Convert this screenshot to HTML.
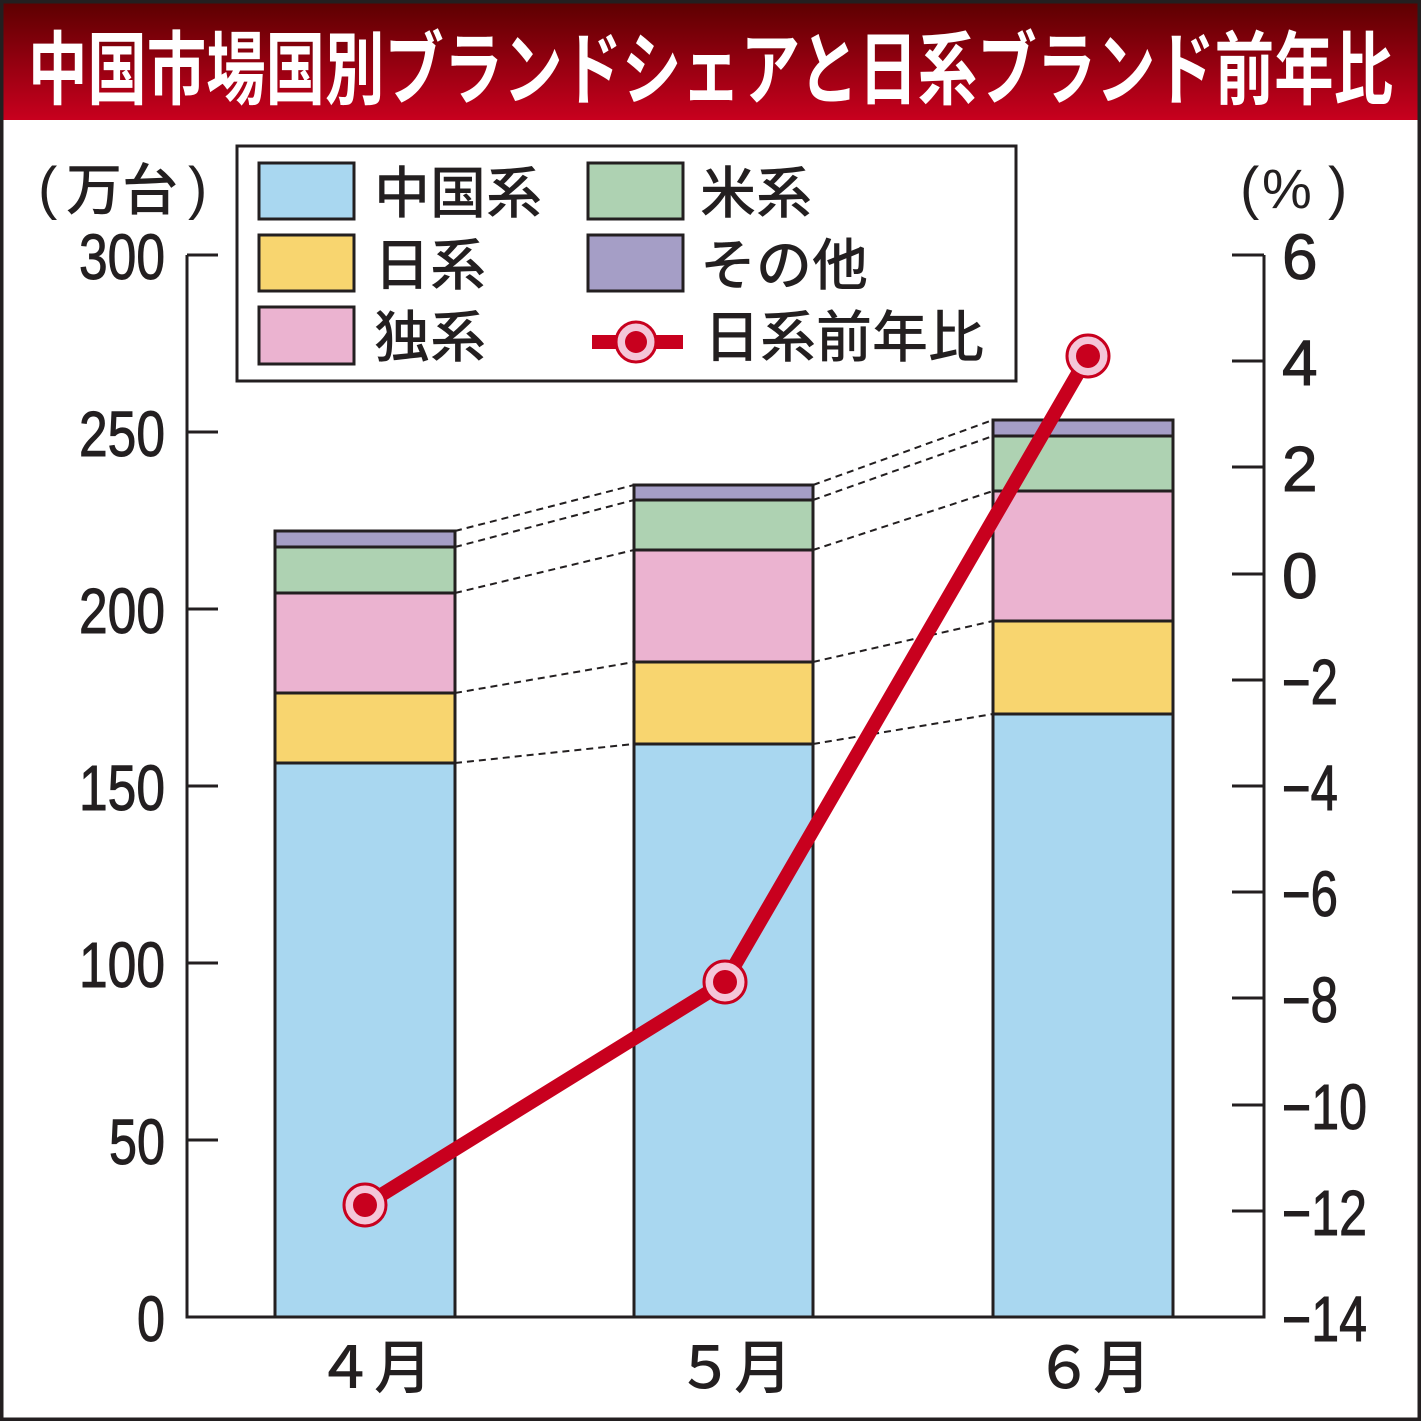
<!DOCTYPE html>
<html><head><meta charset="utf-8"><style>
html,body{margin:0;padding:0;background:#fff}
svg{display:block}
text{font-family:"Liberation Sans","Noto Sans CJK JP",sans-serif}
.t{font-family:"Liberation Sans Narrow","Liberation Sans",sans-serif;font-size:64px;fill:#231f20}
.j{font-family:"Noto Sans CJK JP",sans-serif;font-size:56px;fill:#231f20;font-weight:500}
.p{font-family:"Liberation Sans",sans-serif;font-size:58px;fill:#231f20}
</style></head><body>
<svg width="1421" height="1421" viewBox="0 0 1421 1421" xmlns="http://www.w3.org/2000/svg">
<defs><linearGradient id="g" x1="0" y1="0" x2="0" y2="1"><stop offset="0" stop-color="#5a0000"/><stop offset="1" stop-color="#c8001e"/></linearGradient></defs>
<rect x="0" y="0" width="1421" height="1421" fill="#fff"/>
<rect x="0" y="0" width="1421" height="120" fill="url(#g)"/>
<text x="28" y="98" font-size="80" font-weight="bold" fill="#fff" textLength="1365" lengthAdjust="spacingAndGlyphs" style="font-family:'Noto Sans CJK JP',sans-serif">中国市場国別ブランドシェアと日系ブランド前年比</text>
<rect x="1.5" y="1.5" width="1418" height="1418" fill="none" stroke="#231f20" stroke-width="4"/>
<!-- units -->
<text class="p" x="38" y="208">(</text>
<text class="j" x="66" y="210">万台</text>
<text class="p" x="188" y="208">)</text>
<text class="p" x="1240" y="208">(</text>
<text class="p" x="1262" y="208" style="font-size:56px">%</text>
<text class="p" x="1328" y="208">)</text>
<!-- bars -->
<g stroke="#231f20" stroke-width="3">
<rect x="275" y="763" width="180" height="554" fill="#a9d7f0"/>
<rect x="275" y="693" width="180" height="70" fill="#f8d56f"/>
<rect x="275" y="593" width="180" height="100" fill="#ebb3d0"/>
<rect x="275" y="547" width="180" height="46" fill="#aed2b2"/>
<rect x="275" y="531" width="180" height="16" fill="#a59ec6"/>
<rect x="634" y="744" width="179" height="573" fill="#a9d7f0"/>
<rect x="634" y="662" width="179" height="82" fill="#f8d56f"/>
<rect x="634" y="550" width="179" height="112" fill="#ebb3d0"/>
<rect x="634" y="500" width="179" height="50" fill="#aed2b2"/>
<rect x="634" y="485" width="179" height="15" fill="#a59ec6"/>
<rect x="993" y="714" width="180" height="603" fill="#a9d7f0"/>
<rect x="993" y="621" width="180" height="93" fill="#f8d56f"/>
<rect x="993" y="491" width="180" height="130" fill="#ebb3d0"/>
<rect x="993" y="436" width="180" height="55" fill="#aed2b2"/>
<rect x="993" y="420" width="180" height="16" fill="#a59ec6"/>
</g>
<g stroke="#231f20" stroke-width="2" stroke-dasharray="7,5" fill="none">
<path d="M455 763L634 744M455 693L634 662M455 593L634 550M455 547L634 500M455 531L634 485"/>
<path d="M813 744L993 714M813 662L993 621M813 550L993 491M813 500L993 436M813 485L993 420"/>
</g>
<!-- axes -->
<g stroke="#231f20" stroke-width="3" fill="none">
<path d="M187 255V1317H1264V255"/>
<path d="M187 255H218M187 432H218M187 609H218M187 786H218M187 963H218M187 1140H218"/>
<path d="M1232 255H1264M1232 361H1264M1232 467H1264M1232 574H1264M1232 680H1264M1232 786H1264M1232 892H1264M1232 998H1264M1232 1105H1264M1232 1211H1264"/>
</g>
<g class="t" text-anchor="end" stroke="#231f20" stroke-width="1">
<text x="165" y="279" textLength="86" lengthAdjust="spacingAndGlyphs">300</text>
<text x="165" y="456" textLength="86" lengthAdjust="spacingAndGlyphs">250</text>
<text x="165" y="633" textLength="86" lengthAdjust="spacingAndGlyphs">200</text>
<text x="165" y="810" textLength="86" lengthAdjust="spacingAndGlyphs">150</text>
<text x="165" y="987" textLength="86" lengthAdjust="spacingAndGlyphs">100</text>
<text x="165" y="1164" textLength="56" lengthAdjust="spacingAndGlyphs">50</text>
<text x="165" y="1341" textLength="28" lengthAdjust="spacingAndGlyphs">0</text>
</g>
<g class="t" stroke="#231f20" stroke-width="1">
<text x="1282" y="279">6</text>
<text x="1282" y="385">4</text>
<text x="1282" y="491">2</text>
<text x="1282" y="598">0</text>
<text x="1282" y="704" textLength="56" lengthAdjust="spacingAndGlyphs">−2</text>
<text x="1282" y="810" textLength="56" lengthAdjust="spacingAndGlyphs">−4</text>
<text x="1282" y="916" textLength="56" lengthAdjust="spacingAndGlyphs">−6</text>
<text x="1282" y="1022" textLength="56" lengthAdjust="spacingAndGlyphs">−8</text>
<text x="1282" y="1129" textLength="85" lengthAdjust="spacingAndGlyphs">−10</text>
<text x="1282" y="1235" textLength="85" lengthAdjust="spacingAndGlyphs">−12</text>
<text x="1282" y="1341" textLength="85" lengthAdjust="spacingAndGlyphs">−14</text>
</g>
<g class="j" style="font-size:58px">
<text x="316" y="1388">４月</text>
<text x="676" y="1388">５月</text>
<text x="1035" y="1388">６月</text>
</g>
<!-- legend -->
<rect x="237" y="146" width="779" height="235" fill="#fff" stroke="#231f20" stroke-width="3"/>
<g stroke="#231f20" stroke-width="3">
<rect x="259" y="163" width="95" height="56" fill="#a9d7f0"/>
<rect x="259" y="235" width="95" height="56" fill="#f8d56f"/>
<rect x="259" y="307" width="95" height="57" fill="#ebb3d0"/>
<rect x="588" y="163" width="95" height="56" fill="#aed2b2"/>
<rect x="588" y="235" width="95" height="56" fill="#a59ec6"/>
</g>
<g class="j">
<text x="374" y="213">中国系</text>
<text x="374" y="285">日系</text>
<text x="374" y="357">独系</text>
<text x="700" y="213">米系</text>
<text x="700" y="285">その他</text>
<text x="704" y="357">日系前年比</text>
</g>
<path d="M592 342H683" stroke="#c8001e" stroke-width="14"/>
<circle cx="636" cy="342" r="20" fill="#f4c6d8" stroke="#c8001e" stroke-width="3"/>
<circle cx="636" cy="342" r="11" fill="#c8001e"/>
<!-- line -->
<polyline points="365,1205 725,982 1088,356" fill="none" stroke="#c8001e" stroke-width="14" stroke-linejoin="round"/>
<g>
<circle cx="365" cy="1205" r="21" fill="#f4c6d8" stroke="#c8001e" stroke-width="3"/>
<circle cx="365" cy="1205" r="12" fill="#c8001e"/>
<circle cx="725" cy="982" r="21" fill="#f4c6d8" stroke="#c8001e" stroke-width="3"/>
<circle cx="725" cy="982" r="12" fill="#c8001e"/>
<circle cx="1088" cy="356" r="21" fill="#f4c6d8" stroke="#c8001e" stroke-width="3"/>
<circle cx="1088" cy="356" r="12" fill="#c8001e"/>
</g>
</svg>
</body></html>
